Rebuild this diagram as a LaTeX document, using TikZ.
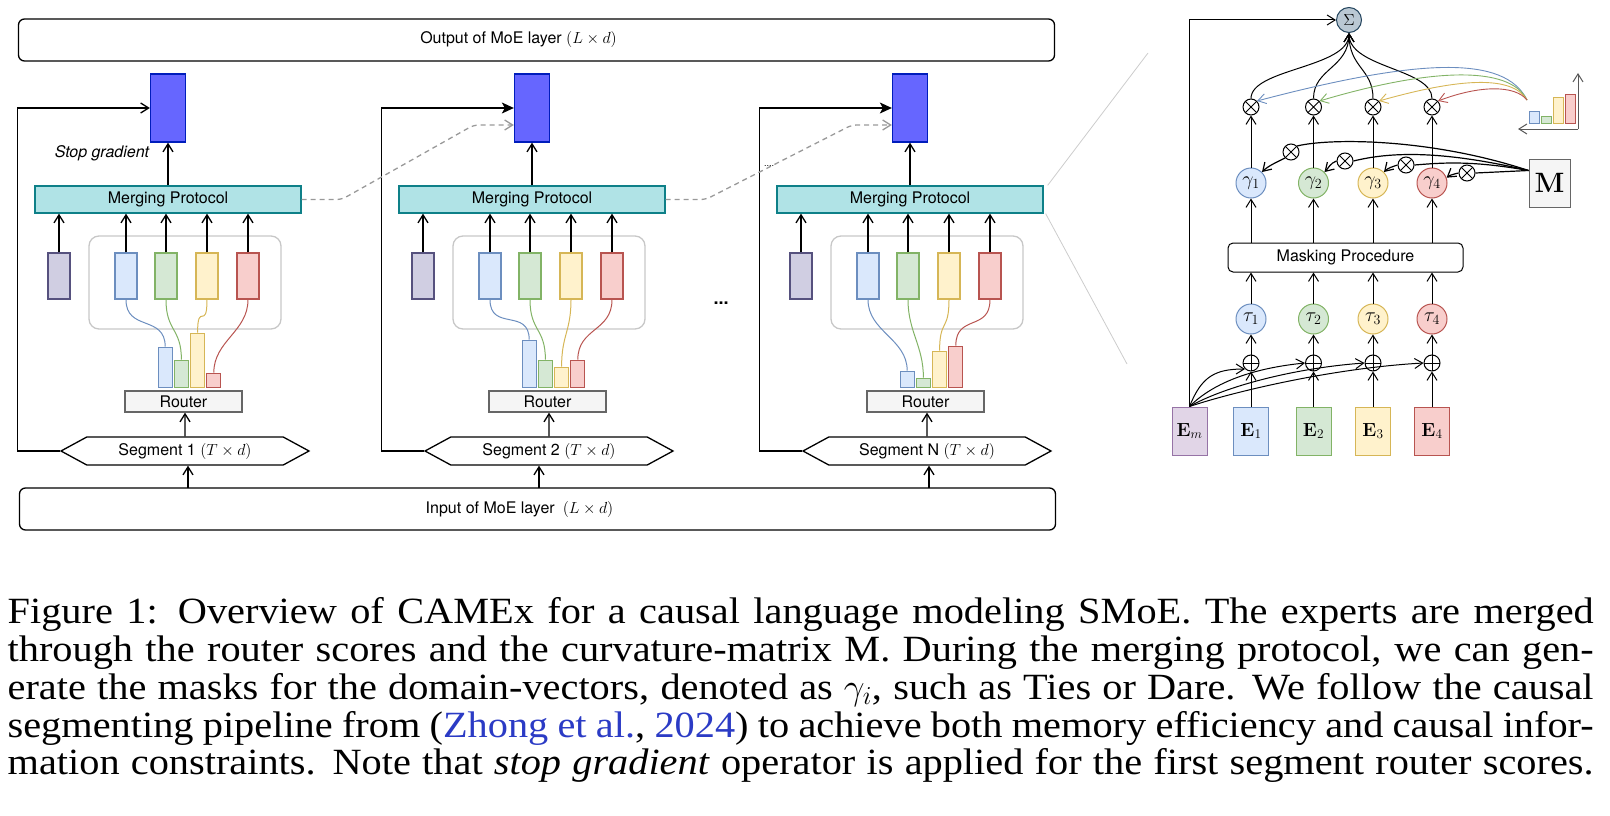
\RequirePackage{fix-cm}
\documentclass[tikz,border=0pt]{standalone}
\usepackage[no-math]{fontspec}
\setmainfont{TeX Gyre Heros}
\newfontfamily\capfont[FakeStretch=1.09]{Liberation Serif}
\usepackage{amsmath,amssymb}
\usepackage{tikz}
\usetikzlibrary{arrows.meta, positioning, shapes.symbols, calc}

\definecolor{outfill}{HTML}{6666FF}
\definecolor{outdraw}{HTML}{001DBC}
\definecolor{mpfill}{HTML}{B0E3E6}
\definecolor{mpdraw}{HTML}{0E8088}
\definecolor{shfill}{HTML}{D0CEE2}
\definecolor{shdraw}{HTML}{56517E}
\definecolor{ex1fill}{HTML}{DAE8FC}
\definecolor{ex1draw}{HTML}{6C8EBF}
\definecolor{ex2fill}{HTML}{D5E8D4}
\definecolor{ex2draw}{HTML}{82B366}
\definecolor{ex3fill}{HTML}{FFF2CC}
\definecolor{ex3draw}{HTML}{D6B656}
\definecolor{ex4fill}{HTML}{F8CECC}
\definecolor{ex4draw}{HTML}{B85450}
\definecolor{exmfill}{HTML}{E1D5E7}
\definecolor{exmdraw}{HTML}{9673A6}
\definecolor{rtfill}{HTML}{F5F5F5}
\definecolor{rtdraw}{HTML}{666666}
\definecolor{sumfill}{HTML}{BAC8D3}
\definecolor{sumdraw}{HTML}{23445D}
\definecolor{citeblue}{HTML}{2B3BC5}

\begin{document}
\begin{tikzpicture}[x=1pt, y=-1pt, line width=1.3pt,
	>={Straight Barb[length=8pt,width=10pt]},
	every node/.style={font=\fontsize{16}{19}\selectfont, inner sep=0pt},
	bigbox/.style={draw, rounded corners=6, minimum width=1036, minimum height=42},
	outrect/.style={draw=outdraw, fill=outfill, minimum width=35, minimum height=68},
	mergebox/.style={draw=mpdraw, fill=mpfill, minimum width=266, minimum height=27},
	sharedexp/.style={draw=shdraw, fill=shfill, minimum width=22, minimum height=46},
	expbox/.style={draw=ex#1draw, fill=ex#1fill, minimum width=22, minimum height=46},
	scorebar/.style={draw=ex#1draw, fill=ex#1fill, minimum width=14, anchor=south},
	grpbox/.style={draw=black!22, rounded corners=10, minimum width=192, minimum height=93},
	routerbox/.style={draw=rtdraw, fill=rtfill, minimum width=117, minimum height=21},
	segbox/.style={draw, shape=signal, signal to=east and west, signal pointer angle=57, minimum width=248, minimum height=28},
	openloop/.style={->},
	fillloop/.style={-{Stealth[length=12pt,width=11pt,inset=3pt]}},
	dashlink/.style={draw=black!40, dashed, dash pattern=on 5pt off 4pt, rounded corners=5, ->},
	zoomline/.style={draw=black!20, line width=0.8pt},
	opcirc/.style={circle, draw, line width=1pt, minimum size=16, path picture={
		\draw[line width=1pt] (path picture bounding box.north west) -- (path picture bounding box.south east)
			(path picture bounding box.north east) -- (path picture bounding box.south west);}},
	pluscirc/.style={circle, draw, line width=1pt, minimum size=16, path picture={
		\draw[line width=1pt] (path picture bounding box.north) -- (path picture bounding box.south)
			(path picture bounding box.east) -- (path picture bounding box.west);}},
	valcirc/.style={circle, draw=ex#1draw, fill=ex#1fill, line width=1pt, minimum size=30, font=\fontsize{20}{20}\selectfont},
	ebox/.style={draw=ex#1draw, fill=ex#1fill, line width=1pt, minimum width=35, minimum height=48, font=\fontsize{19}{19}\selectfont},
]
	\useasboundingbox (0,0) rectangle (1610,816);

	\node[bigbox] (outbox) at (536.5,40) {Output of MoE layer $(L\times d)$\hspace*{36pt}};
	\node[bigbox] (inbox) at (537.5,509) {Input of MoE layer\enspace$(L\times d)$\hspace*{36pt}};

	\foreach \s/\xo/\xin/\ha/\hb/\hc/\hd/\lab/\lp in {1/61/127/40/27/54/14/1/openloop, 2/425/114/47/27/20/27/2/fillloop, 3/803/126/16/9/36/41/N/fillloop}{
		\node[outrect] (s\s-out) at (\xo+107,108) {};
		\node[mergebox] (s\s-mp) at (\xo+107,199.5) {Merging Protocol};
		\node[grpbox] (s\s-grp) at (\xo+124,282.5) {};
		\node[sharedexp] (s\s-sh) at (\xo-2,276) {};
		\node[routerbox] (s\s-rt) at (\xo+122.5,401.5) {Router};
		\node[segbox] (s\s-seg) at (\xo+124,451) {Segment \lab{} $(T\times d)$};
		\coordinate (s\s-in) at (\xo+\xin,488);
		\foreach \i/\ex/\h in {1/65/\ha, 2/105/\hb, 3/146/\hc, 4/187/\hd}{
			\node[expbox=\i] (s\s-e\i) at (\xo+\ex,276) {};
			\node[scorebar=\i, minimum height=\h] (s\s-b\i) at (\xo+88+16.2*\i,388) {};
			\draw[->] (s\s-e\i) -- (s\s-e\i |- s\s-mp.south);
			\draw[ex\i draw, line width=1pt] (s\s-e\i.south) .. controls +(0,32) and +(0,-32) .. (s\s-b\i.north);
		}
		\draw[->] (s\s-sh) -- (s\s-sh |- s\s-mp.south);
		\draw[->] (s\s-mp.north -| s\s-out) -- (s\s-out);
		\draw[->] (s\s-seg) -- (s\s-seg |- s\s-rt.south);
		\draw[->] (s\s-in) -- (s\s-in |- s\s-seg.south);
		\draw[\lp] (s\s-seg.west) -- ++(-42,0) |- (s\s-out.west);
	}

	\draw[dashlink] (s1-mp.east) -- ++(40,0) -- ($(s2-out.west)+(-40,17)$) -- ($(s2-out.west)+(0,17)$);
	\draw[dashlink] (s2-mp.east) -- ++(40,0) -- ($(s3-out.west)+(-40,17)$) -- ($(s3-out.west)+(0,17)$);
	\node[font=\itshape\fontsize{16}{19}\selectfont] (stopgrad) at (102,153) {Stop gradient};
	\node[font=\fontsize{9}{9}\selectfont] (gapdots) at (769,166) {....};
	\node[font=\bfseries\fontsize{18}{18}\selectfont] (moredots) at (721,303) {...};

	\coordinate (zoomtop) at (1148,53);
	\coordinate (zoombot) at (1127,364);
	\draw[zoomline] ([xshift=4pt]s3-mp.north east) -- (zoomtop);
	\draw[zoomline] ([xshift=2pt]s3-mp.south east) -- (zoombot);

	\begin{scope}[line width=1pt]
		\node[circle, draw=sumdraw, fill=sumfill, minimum size=25] (sum) at (1349,20) {$\Sigma$};
		\node[ebox=m] (em) at (1189.5,431) {$\mathbf{E}_m$};
		\node[draw=rtdraw, fill=rtfill, minimum width=41, minimum height=48, font=\fontsize{28}{28}\selectfont] (mat) at (1549.5,183) {$\mathbf{M}$};
		\node[draw, rounded corners=5, minimum width=235, minimum height=29] (mask) at (1345.5,257.5) {Masking Procedure};
		\foreach \i/\cx in {1/1251, 2/1313.5, 3/1373, 4/1432}{
			\node[ebox=\i] (e\i) at (\cx,431) {$\mathbf{E}_\i$};
			\node[pluscirc] (op\i) at (\cx,363) {};
			\node[valcirc=\i] (tau\i) at (\cx,319) {$\tau_\i$};
			\node[valcirc=\i] (gam\i) at (\cx,183) {$\gamma_\i$};
			\node[opcirc] (ox\i) at (\cx,107) {};
			\draw[->] (e\i) -- (op\i);
			\draw[->] (op\i) -- (tau\i);
			\draw[->] (tau\i) -- (tau\i |- mask.south);
			\draw[->] (gam\i |- mask.north) -- (gam\i);
			\draw[->] (gam\i) -- (ox\i);
			\draw[->] (ox\i.north) .. controls +(0,-30) and +(0,35) .. (sum.south);
		}
		\draw[->] (em) |- (sum);
		\draw[->] (em.north) .. controls +(12,-30) and +(-30,0) .. (op1.south west);
		\draw[->] (em.north) .. controls +(25,-25) and +(-50,5) .. (op2.west);
		\draw[->] (em.north) .. controls +(35,-20) and +(-70,5) .. (op3.west);
		\draw[->] (em.north) .. controls +(45,-15) and +(-90,5) .. (op4.west);

		\coordinate (chart0) at (1578,129);
		\coordinate (chartsrc) at (1527,100);
		\foreach \i/\h in {1/12, 2/7, 3/26, 4/29}
			\node[scorebar=\i, minimum width=10, minimum height=\h] (rc\i) at (1522+12*\i,124) {};
		\draw[->, black!65] (chart0) -- ++(0,-56);
		\draw[->, black!65] (chart0) -- ++(-60,0);
		\draw[->, ex1draw, line width=0.9pt] (chartsrc) .. controls (1505,55) and (1420,58) .. (ox1.45);
		\draw[->, ex2draw, line width=0.9pt] (chartsrc) .. controls (1510,65) and (1430,68) .. (ox2.45);
		\draw[->, ex3draw, line width=0.9pt] (chartsrc) .. controls (1512,75) and (1460,78) .. (ox3.45);
		\draw[->, ex4draw, line width=0.9pt] (chartsrc) .. controls (1515,85) and (1480,85) .. (ox4.45);

		\foreach \i/\p in {1/{1291,152}, 2/{1345,161}, 3/{1406,165}, 4/{1467,173}}
			\node[opcirc] (mx\i) at (\p) {};
		\coordinate (mfan) at ([yshift=-12pt]mat.north west);
		\draw[line width=1.2pt] (mfan) .. controls (1430,138) and (1330,138) .. (mx1.north east);
		\draw[line width=1.2pt] (mfan) .. controls (1440,150) and (1390,152) .. (mx2.east);
		\draw[line width=1.2pt] (mfan) .. controls (1470,160) and (1440,163) .. (mx3.east);
		\draw[line width=1.2pt] (mfan) -- (mx4.east);
		\draw[->, line width=1.2pt] (mx1.south west) .. controls +(-8,4) and +(6,-6) .. (gam1.north east);
		\draw[->, line width=1.2pt] (mx2.west) .. controls +(-6,2) and +(4,-4) .. (gam2.north east);
		\draw[->, line width=1.2pt] (mx3.west) .. controls +(-6,2) and +(4,-4) .. (gam3.north east);
		\draw[->, line width=1.2pt] (mx4.west) .. controls +(-4,1) and +(4,-3) .. (gam4.20);
	\end{scope}

	\node[anchor=north west, font=\capfont\fontsize{37}{37.8}\selectfont] (caption) at (7,597) {\parbox{1586pt}{\tolerance=10000\parfillskip=0pt
		Figure 1: Overview of CAMEx for a causal language modeling SMoE. The experts are merged\linebreak
		through the router scores and the curvature-matrix M. During the merging protocol, we can gen-\linebreak
		erate the masks for the domain-vectors, denoted as $\gamma_i$, such as Ties or Dare. We follow the causal\linebreak
		segmenting pipeline from ({\color{citeblue}Zhong et al.}, {\color{citeblue}2024}) to achieve both memory efficiency and causal infor-\linebreak
		mation constraints. Note that \textit{stop gradient} operator is applied for the first segment router scores.}};
\end{tikzpicture}
\end{document}
